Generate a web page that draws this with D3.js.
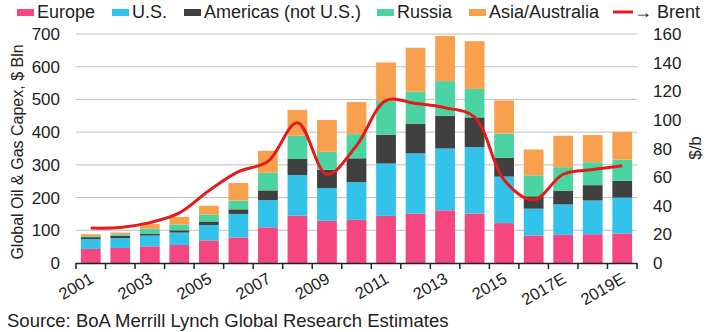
<!DOCTYPE html>
<html>
<head>
<meta charset="utf-8">
<script src="https://cdn.jsdelivr.net/npm/d3@7"></script>
<style>
  body { margin: 0; background: #fff; }
  svg text { font-family: "Liberation Sans", Arial, sans-serif; fill: #222; }
</style>
</head>
<body>
<div id="chart"></div>
<script>
const years = ["2001","2002","2003","2004","2005","2006","2007","2008","2009","2010",
  "2011","2012","2013","2014","2015","2016","2017E","2018E","2019E"];
const europe   = [43,46,51,55,69,78,109,145,129,132,144,151,161,151,122,84,86,88,90];
const us       = [30,30,33,38,47,72,83,124,100,115,160,184,189,203,142,82,93,103,110];
const americas = [6,7,6,7,11,14,30,49,56,73,88,91,100,91,58,38,42,47,51];
const russia   = [3,5,15,18,21,27,54,71,55,74,103,98,106,87,74,64,72,70,65];
const asia     = [6,5,14,23,27,54,67,79,97,98,118,134,138,146,101,79,96,83,85];
const brent    = [24.4,24.8,28.2,35,50.5,63.8,71,98,62,82,113.5,111.5,108.5,102,58,44,62,65.3,68];
const leftTicks = [0,100,200,300,400,500,600,700];
const rightTicks = [0,20,40,60,80,100,120,140,160];

const seriesNames = ["Europe","U.S.","Americas (not U.S.)","Russia","Asia/Australia"];
const seriesColor = ["#f4477f","#33c3ea","#404040","#4bd3a1","#f9a04f"];
const brentColor = "#e31b1b";

const W = 720, H = 332;
const plot = { left: 76, right: 637, top: 34, bottom: 263 };

const svg = d3.select("#chart").append("svg")
  .attr("width", W).attr("height", H);

// build stack table
const table = years.map((y, i) => ({
  year: y, s0: europe[i], s1: us[i], s2: americas[i], s3: russia[i], s4: asia[i]
}));
const stack = d3.stack().keys(["s0","s1","s2","s3","s4"])(table);

const x = d3.scaleBand()
  .domain(years)
  .range([plot.left, plot.right])
  .paddingInner(0.33)
  .paddingOuter(0.165);

const y = d3.scaleLinear().domain([0, 700]).range([plot.bottom, plot.top]);
const y2 = d3.scaleLinear().domain([0, 160]).range([plot.bottom, plot.top]);

// gridlines
svg.append("g")
  .selectAll("line")
  .data(leftTicks.slice(1))
  .join("line")
  .attr("x1", plot.left).attr("x2", plot.right)
  .attr("y1", d => y(d)).attr("y2", d => y(d))
  .attr("stroke", "#bfbfbf").attr("stroke-width", 1);

// bars
svg.append("g")
  .selectAll("g")
  .data(stack)
  .join("g")
  .attr("fill", (d, i) => seriesColor[i])
  .selectAll("rect")
  .data(d => d)
  .join("rect")
  .attr("x", d => x(d.data.year))
  .attr("width", x.bandwidth())
  .attr("y", d => y(d[1]))
  .attr("height", d => y(d[0]) - y(d[1]));

// x axis line + ticks at band boundaries
const step = x.step();
const xa = svg.append("g");
xa.append("line")
  .attr("x1", plot.left).attr("x2", plot.right)
  .attr("y1", plot.bottom + 0.5).attr("y2", plot.bottom + 0.5)
  .attr("stroke", "#222").attr("stroke-width", 1.5);
xa.selectAll(".tk")
  .data(d3.range(years.length + 1))
  .join("line")
  .attr("class", "tk")
  .attr("x1", i => plot.left + i * step).attr("x2", i => plot.left + i * step)
  .attr("y1", plot.bottom).attr("y2", plot.bottom + 6)
  .attr("stroke", "#222").attr("stroke-width", 1.5);

xa.selectAll(".xl")
  .data(years.filter((d, i) => i % 2 === 0))
  .join("text")
  .attr("class", "xl")
  .attr("text-anchor", "end")
  .attr("font-size", 16.5)
  .attr("transform", d => `translate(${x(d) + x.bandwidth() / 2 + 4},282) rotate(-30)`)
  .text(d => d);

// left axis labels
svg.append("g")
  .selectAll("text")
  .data(leftTicks)
  .join("text")
  .attr("x", 60)
  .attr("y", d => y(d) + 6)
  .attr("text-anchor", "end")
  .attr("font-size", 17)
  .text(d => d);

// right axis labels
svg.append("g")
  .selectAll("text")
  .data(rightTicks)
  .join("text")
  .attr("x", 653)
  .attr("y", d => y2(d) + 6)
  .attr("font-size", 17)
  .text(d => d);

// axis titles
svg.append("text")
  .attr("transform", "translate(23,152) rotate(-90)")
  .attr("text-anchor", "middle")
  .attr("font-size", 16)
  .text("Global Oil & Gas Capex, $ Bln");

svg.append("text")
  .attr("transform", "translate(701,148) rotate(-90)")
  .attr("text-anchor", "middle")
  .attr("font-size", 17)
  .text("$/b");

// brent line
const line = d3.line()
  .x((d, i) => x(years[i]) + x.bandwidth() / 2)
  .y(d => y2(d))
  .curve(d3.curveCatmullRom);

svg.append("path")
  .datum(brent)
  .attr("d", line)
  .attr("fill", "none")
  .attr("stroke", brentColor)
  .attr("stroke-width", 3);

// legend
const legendX = [17, 112, 184, 377, 469];
const lg = svg.append("g");
seriesNames.forEach((name, i) => {
  lg.append("rect")
    .attr("x", legendX[i]).attr("y", 9)
    .attr("width", 17).attr("height", 7)
    .attr("fill", seriesColor[i]);
  lg.append("text")
    .attr("x", legendX[i] + 20).attr("y", 18)
    .attr("font-size", 18)
    .text(name);
});
lg.append("line")
  .attr("x1", 613).attr("x2", 633)
  .attr("y1", 12).attr("y2", 12)
  .attr("stroke", brentColor).attr("stroke-width", 3);
lg.append("text")
  .attr("x", 634).attr("y", 18)
  .attr("font-size", 18)
  .text("\u2192 Brent");

// source
svg.append("text")
  .attr("x", 7).attr("y", 327)
  .attr("font-size", 18.5)
  .text("Source: BoA Merrill Lynch Global Research Estimates");
</script>
</body>
</html>
